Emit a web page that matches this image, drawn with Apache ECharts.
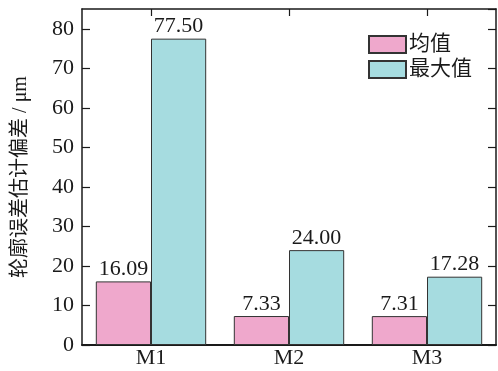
<!DOCTYPE html>
<html>
<head>
<meta charset="utf-8">
<script src="https://cdn.jsdelivr.net/npm/echarts@6/dist/echarts.min.js"></script>
<style>
html,body{margin:0;padding:0;background:#fff;}
#chart{width:498px;height:371px;}
</style>
</head>
<body>
<div id="chart"></div>
<script>
// Profile error estimation deviation per method
const categories = ['M1', 'M2', 'M3'];
const meanValues = [16.09, 7.33, 7.31];
const maxValues = [77.50, 24.00, 17.28];
const seriesNames = ['均值', '最大值'];
const yAxisTitle = '轮廓误差估计偏差 / μm';

const FONT = '"Liberation Serif", "Times New Roman", "Noto Sans CJK SC", serif';
const TEXT = '#1a1a1a';
const AXIS = '#1a1a1a';

const chart = echarts.init(document.getElementById('chart'), null, {renderer: 'canvas'});

const barLabel = {
  show: true,
  position: 'top',
  distance: 1,
  color: TEXT,
  fontFamily: FONT,
  fontSize: 22,
  formatter: p => p.value.toFixed(2)
};

chart.setOption({
  animation: false,
  backgroundColor: '#fff',
  grid: {left: 82, right: 2, top: 9, bottom: 26, containLabel: false},
  legend: {
    orient: 'vertical',
    left: 368,
    top: 34,
    padding: 0,
    itemWidth: 37,
    itemHeight: 17,
    itemGap: 4,
    icon: 'rect',
    data: seriesNames,
    textStyle: {fontFamily: FONT, fontSize: 21, lineHeight: 21, color: TEXT, padding: [0, 0, 0, -2]}
  },
  xAxis: [{
    type: 'category',
    data: categories,
    axisLine: {show: true, lineStyle: {color: AXIS, width: 2}},
    axisTick: {show: true, inside: true, alignWithLabel: true, length: 7, lineStyle: {color: AXIS, width: 1.2}},
    axisLabel: {color: TEXT, fontFamily: FONT, fontSize: 22, margin: 2}
  }, {
    type: 'category',
    data: categories,
    position: 'top',
    axisLine: {show: true, onZero: false, lineStyle: {color: AXIS, width: 1.5}},
    axisTick: {show: true, inside: true, alignWithLabel: true, length: 7, lineStyle: {color: AXIS, width: 1.2}},
    axisLabel: {show: false}
  }],
  yAxis: [{
    type: 'value',
    min: 0,
    max: 85,
    interval: 10,
    name: yAxisTitle,
    nameLocation: 'middle',
    nameGap: 51,
    nameRotate: 90,
    nameTextStyle: {color: TEXT, fontFamily: FONT, fontSize: 20},
    axisLine: {show: true, lineStyle: {color: AXIS, width: 1.5}},
    axisTick: {show: true, inside: true, length: 8, lineStyle: {color: AXIS, width: 1.2}},
    axisLabel: {color: TEXT, fontFamily: FONT, fontSize: 22, margin: 8, showMaxLabel: false},
    splitLine: {show: false}
  }, {
    type: 'value',
    min: 0,
    max: 85,
    interval: 10,
    position: 'right',
    axisLine: {show: true, onZero: false, lineStyle: {color: AXIS, width: 1.5}},
    axisTick: {show: true, inside: true, length: 8, lineStyle: {color: AXIS, width: 1.2}},
    axisLabel: {show: false},
    splitLine: {show: false}
  }],
  series: [{
    name: seriesNames[0],
    type: 'bar',
    data: meanValues,
    barGap: '0%',
    barCategoryGap: '20%',
    itemStyle: {color: '#EFA8CC', borderColor: '#333', borderWidth: 1},
    label: barLabel
  }, {
    name: seriesNames[1],
    type: 'bar',
    data: maxValues,
    barGap: '0%',
    barCategoryGap: '20%',
    itemStyle: {color: '#A6DCE0', borderColor: '#333', borderWidth: 1},
    label: barLabel
  }]
});
</script>
</body>
</html>
